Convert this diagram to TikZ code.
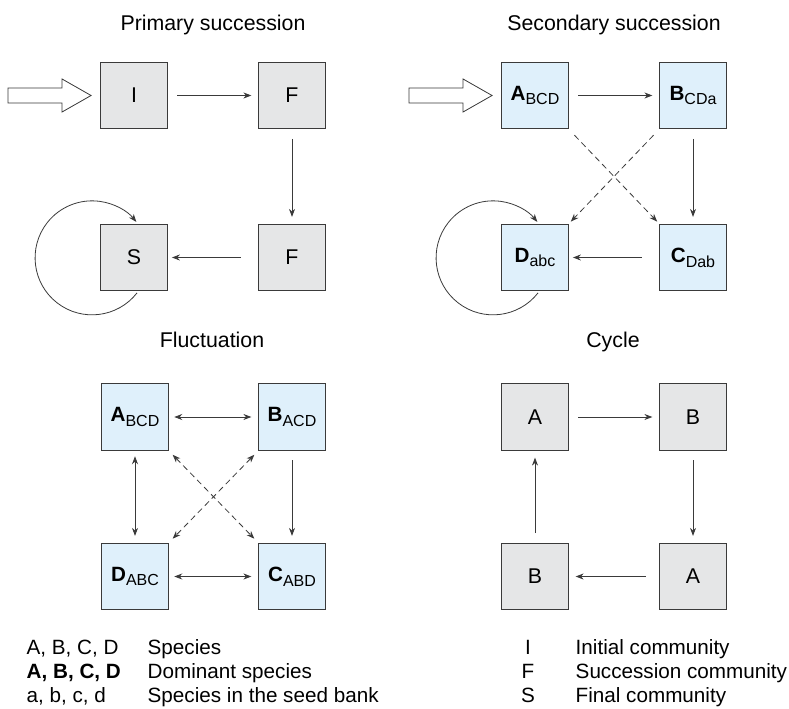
\documentclass[tikz,border=0pt]{standalone}
\usepackage{fontspec}
\setmainfont{Liberation Sans}
\usetikzlibrary{calc, arrows.meta}

\definecolor{seedblue}{HTML}{DFF0FB}
\definecolor{commgray}{HTML}{E5E6E7}
\definecolor{edgegray}{HTML}{3A3A3A}

% dominant species with the others as subscript
\newcommand{\dom}[2]{\textbf{#1}\raisebox{-3.6pt}{\fontsize{12}{12}\selectfont #2}}

\begin{document}
\begin{tikzpicture}[
  x=0.75pt, y=-0.75pt,
  font=\fontsize{16}{19}\selectfont,
  box/.style={draw=edgegray, line width=0.9pt, minimum size=50pt, inner sep=0pt},
  graybox/.style={box, fill=commgray},
  bluebox/.style={box, fill=seedblue, font=\fontsize{15.5}{18}\selectfont},
  link/.style={draw=edgegray, line width=0.6pt,
    -{Stealth[length=6pt, width=4.5pt]}, shorten <=7pt, shorten >=5pt},
  twoway/.style={link, {Stealth[length=6pt, width=4.5pt]}-{Stealth[length=6pt, width=4.5pt]},
    shorten <=4pt},
  seed/.style={dash pattern=on 4.5pt off 3pt},
  hollow/.style={draw=edgegray, line width=0.6pt, fill=white},
  title/.style={anchor=base},
  legend/.style={anchor=base west, font=\fontsize{15.5}{18}\selectfont},
]
  \useasboundingbox (0,0) rectangle (789,709);

  % Primary succession
  \node[title] (tprim) at (213,31) {Primary succession};
  \node[graybox] (I)  at (134,95.5)  {I};
  \node[graybox] (F1) at (292,95.5)  {F};
  \node[graybox] (F2) at (292,257.5) {F};
  \node[graybox] (S)  at (134,257.5) {S};

  \coordinate (inI) at ($(I.west)+(-9,0)$);
  \draw[hollow] (inI) -- ++(-29,-16.5) -- ++(0,9) -- ++(-54,0) -- ++(0,15)
    -- ++(54,0) -- ++(0,9) -- cycle;
  \draw[link] (I) -- (F1);
  \draw[link] (F1) -- (F2);
  \draw[link, shorten <=13pt, shorten >=3pt] (F2) -- (S);
  \coordinate (loopS) at ($(S.south)+(3,1.5)$);
  \draw[link, shorten <=0pt, shorten >=0pt] (loopS)
    arc[start angle=38, end angle=321, radius=57];

  % Secondary succession
  \node[title] (tsec) at (614,31) {Secondary succession};
  \node[bluebox] (sA) at (535,95.5)  {\dom{A}{BCD}};
  \node[bluebox] (sB) at (693,95.5)  {\dom{B}{CDa}};
  \node[bluebox] (sC) at (693,257.5) {\dom{C}{Dab}};
  \node[bluebox] (sD) at (535,257.5) {\dom{D}{abc}};

  \coordinate (insA) at ($(sA.west)+(-9,0)$);
  \draw[hollow] (insA) -- ++(-29,-16.5) -- ++(0,9) -- ++(-54,0) -- ++(0,15)
    -- ++(54,0) -- ++(0,9) -- cycle;
  \draw[link] (sA) -- (sB);
  \draw[link] (sB) -- (sC);
  \draw[link, shorten <=13pt, shorten >=3pt] (sC) -- (sD);
  \draw[link, seed, shorten <=6pt, shorten >=2pt] (sA.south east) -- (sC.north west);
  \draw[link, seed, shorten <=6pt, shorten >=2pt] (sB.south west) -- (sD.north east);
  \coordinate (loopD) at ($(sD.south)+(3,1.5)$);
  \draw[link, shorten <=0pt, shorten >=0pt] (loopD)
    arc[start angle=38, end angle=321, radius=57];

  % Fluctuation
  \node[title] (tfluc) at (212,348) {Fluctuation};
  \node[bluebox] (fA) at (135,417)   {\dom{A}{BCD}};
  \node[bluebox] (fB) at (292,417)   {\dom{B}{ACD}};
  \node[bluebox] (fC) at (292,576.5) {\dom{C}{ABD}};
  \node[bluebox] (fD) at (135,576.5) {\dom{D}{ABC}};

  \draw[twoway] (fA) -- (fB);
  \draw[twoway] (fD) -- (fC);
  \draw[twoway] (fA) -- (fD);
  \draw[link] (fB) -- (fC);
  \draw[twoway, seed, shorten >=4pt] (fA.south east) -- (fC.north west);
  \draw[twoway, seed, shorten >=4pt] (fB.south west) -- (fD.north east);

  % Cycle
  \node[title] (tcyc) at (613,348) {Cycle};
  \node[graybox] (cA1) at (535,417)   {A};
  \node[graybox] (cB1) at (693,417)   {B};
  \node[graybox] (cA2) at (693,576.5) {A};
  \node[graybox] (cB2) at (535,576.5) {B};

  \draw[link] (cA1) -- (cB1);
  \draw[link] (cB1) -- (cA2);
  \draw[link, shorten <=10pt] (cA2) -- (cB2);
  \draw[link] (cB2) -- (cA1);

  % Legend
  \node[legend] (k1) at (22,654) {A, B, C, D};
  \node[legend] (k2) at (22,678) {\textbf{A, B, C, D}};
  \node[legend] (k3) at (22,702) {a, b, c, d};
  \node[legend] (v1) at (143,654) {Species};
  \node[legend] (v2) at (143,678) {Dominant species};
  \node[legend] (v3) at (143,702) {Species in the seed bank};

  \node[legend, anchor=base] (k4) at (528,654) {I};
  \node[legend, anchor=base] (k5) at (528,678) {F};
  \node[legend, anchor=base] (k6) at (528,702) {S};
  \node[legend] (v4) at (571,654) {Initial community};
  \node[legend] (v5) at (571,678) {Succession community};
  \node[legend] (v6) at (571,702) {Final community};
\end{tikzpicture}
\end{document}
